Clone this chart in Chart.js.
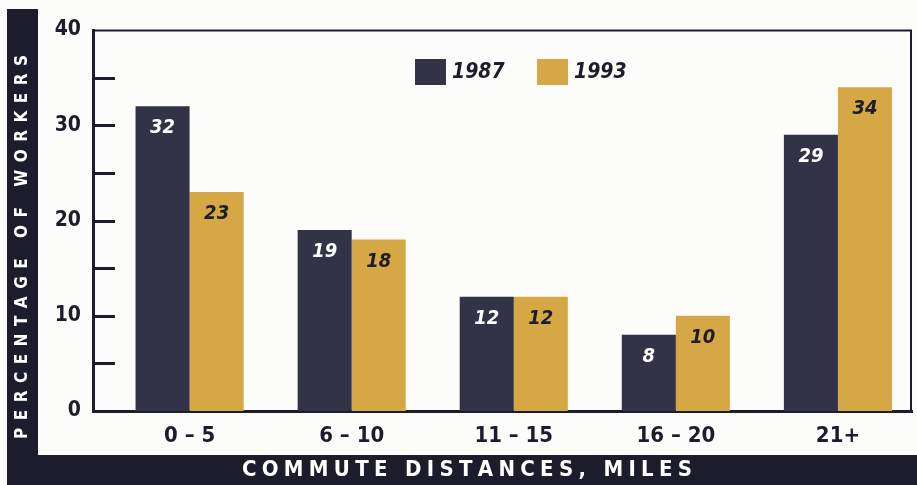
<!DOCTYPE html>
<html>
<head>
<meta charset="utf-8">
<script src="https://cdn.jsdelivr.net/npm/chart.js@4.4.0/dist/chart.umd.min.js"></script>
<style>
  html, body { margin: 0; padding: 0; background: #fcfcfa; }
  canvas { display: block; }
</style>
</head>
<body>
<canvas id="c" width="917" height="485"></canvas>
<script>
// ---- data ----
const categories = ['0 – 5', '6 – 10', '11 – 15', '16 – 20', '21+'];
const seriesLabels = ['1987', '1993'];
const values1987 = [32, 19, 12, 8, 29];
const values1993 = [23, 18, 12, 10, 34];
const yTicks = [0, 10, 20, 30, 40];
const yMinorTicks = [5, 10, 15, 20, 25, 30, 35];
const yTitle = 'PERCENTAGE OF WORKERS';
const xTitle = 'COMMUTE DISTANCES, MILES';

// ---- style ----
const FONT = "'DejaVu Sans Condensed', 'Liberation Sans Narrow', 'Liberation Sans', sans-serif";
const INK = '#1d1c2c';
const DARK = '#323347';
const GOLD = '#d5a845';
const BG = '#fcfcfa';

function spacedText(ctx, text, x, y, spacing) {
  let total = 0;
  const ws = [];
  for (const ch of text) { const w = ctx.measureText(ch).width; ws.push(w); total += w + spacing; }
  total -= spacing;
  let cx = x - total / 2;
  let i = 0;
  ctx.textAlign = 'left';
  for (const ch of text) { ctx.fillText(ch, cx, y); cx += ws[i++] + spacing; }
}

const decor = {
  id: 'decor',
  beforeDraw(chart) {
    const ctx = chart.ctx;
    ctx.save();
    ctx.fillStyle = BG;
    ctx.fillRect(0, 0, chart.width, chart.height);
    ctx.fillStyle = INK;
    ctx.fillRect(7, 9, 31, chart.height - 9);
    ctx.fillRect(7, 455, chart.width - 7, chart.height - 455);
    ctx.restore();
  },
  afterDraw(chart) {
    const ctx = chart.ctx;
    const a = chart.chartArea;
    const y = chart.scales.y;
    ctx.save();
    // frame top/right
    ctx.strokeStyle = INK;
    ctx.lineWidth = 2;
    ctx.beginPath();
    ctx.moveTo(a.left, a.top + 0.5);
    ctx.lineTo(a.right - 1, a.top + 0.5);
    ctx.lineTo(a.right - 1, a.bottom);
    ctx.stroke();
    // inward ticks
    ctx.lineWidth = 3;
    for (const v of yMinorTicks) {
      const py = Math.round(y.getPixelForValue(v)) + 0.5;
      ctx.beginPath();
      ctx.moveTo(a.left, py);
      ctx.lineTo(a.left + 22, py);
      ctx.stroke();
    }
    // titles
    ctx.fillStyle = '#ffffff';
    ctx.textBaseline = 'middle';
    ctx.font = 'bold 17px ' + FONT;
    ctx.save();
    ctx.translate(23, 247);
    ctx.rotate(-Math.PI / 2);
    spacedText(ctx, yTitle, 0, 0, 7.5);
    ctx.restore();
    ctx.font = 'bold 22px ' + FONT;
    spacedText(ctx, xTitle, 467, 470, 5.3);

    // legend
    const ds = chart.data.datasets;
    ctx.font = 'italic bold 21px ' + FONT;
    const lx0 = a.left + 322;
    const ly = a.top + 29;
    ds.forEach((d, i) => {
      const lx = lx0 + i * 122;
      ctx.fillStyle = d.backgroundColor;
      ctx.fillRect(lx, ly, 31, 26);
      ctx.fillStyle = INK;
      ctx.textAlign = 'left';
      ctx.textBaseline = 'middle';
      ctx.fillText(d.label, lx + 37, ly + 14);
    });

    // value labels
    ctx.font = 'italic bold 20px ' + FONT;
    ctx.textAlign = 'center';
    ctx.textBaseline = 'middle';
    ds.forEach((d, i) => {
      const meta = chart.getDatasetMeta(i);
      meta.data.forEach((el, j) => {
        ctx.fillStyle = i === 0 ? '#ffffff' : INK;
        ctx.fillText(String(d.data[j].y), el.x, el.y + 22);
      });
    });
    ctx.restore();
  }
};

const toPoints = arr => arr.map((v, i) => ({ x: i, y: v }));

new Chart(document.getElementById('c'), {
  type: 'bar',
  data: {
    datasets: [
      { label: seriesLabels[0], data: toPoints(values1987), backgroundColor: DARK,
        categoryPercentage: 0.667, barPercentage: 1.0 },
      { label: seriesLabels[1], data: toPoints(values1993), backgroundColor: GOLD,
        categoryPercentage: 0.667, barPercentage: 1.0 }
    ]
  },
  options: {
    responsive: false,
    animation: false,
    devicePixelRatio: 1,
    layout: { padding: { top: 30, right: 5, left: 0, bottom: 0 } },
    plugins: { legend: { display: false }, tooltip: { enabled: false } },
    scales: {
      x: {
        type: 'linear',
        offset: false,
        min: -0.596,
        max: 4.457,
        grid: { display: false, drawTicks: false },
        border: { display: true, color: INK, width: 3 },
        afterBuildTicks: s => { s.ticks = categories.map((c, i) => ({ value: i })); },
        afterFit: s => { s.height = 74; },
        ticks: {
          padding: 12,
          color: INK,
          font: { family: FONT, size: 22, weight: 'bold' },
          callback: v => categories[v]
        }
      },
      y: {
        min: 0,
        max: 40,
        grid: { display: false, drawTicks: false },
        border: { display: true, color: INK, width: 3 },
        afterBuildTicks: s => { s.ticks = yTicks.map(v => ({ value: v })); },
        afterFit: s => { s.width = 93; },
        ticks: {
          padding: 12,
          color: INK,
          font: { family: FONT, size: 21, weight: 'bold' }
        }
      }
    }
  },
  plugins: [decor]
});
</script>
</body>
</html>
